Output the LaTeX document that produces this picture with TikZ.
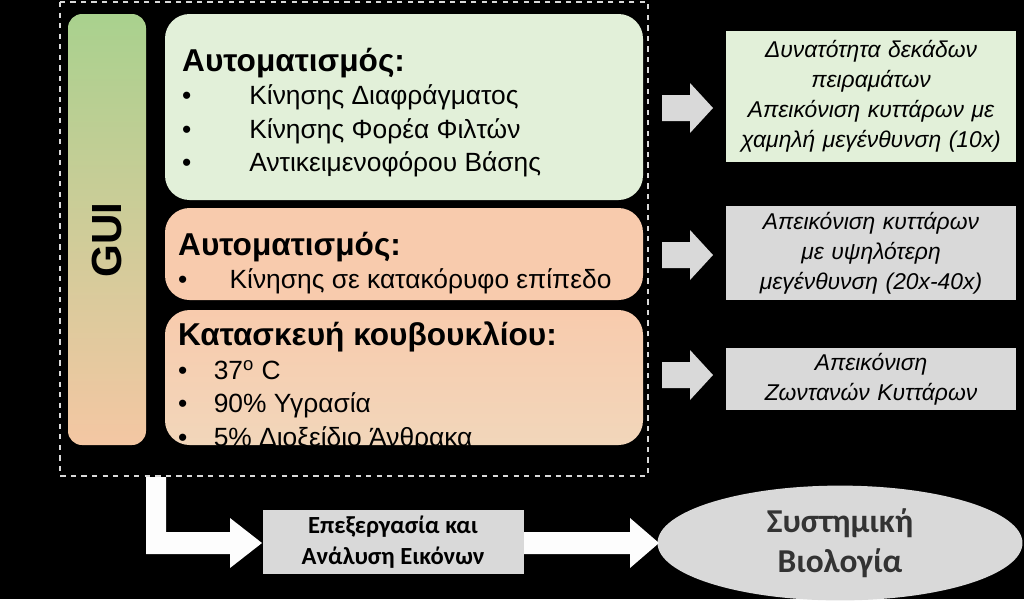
\documentclass[tikz,border=0pt]{standalone}
\usepackage{fontspec}
\setmainfont{Liberation Sans}
\newfontfamily\calibri{Carlito}
\usetikzlibrary{shapes.geometric}
\definecolor{lgreen}{HTML}{E2F0D9}
\definecolor{peach}{HTML}{F8CBAD}
\definecolor{lgrey}{HTML}{D9D9D9}
\definecolor{bgreen}{HTML}{A9D18E}
\definecolor{btan}{HTML}{F4C7A3}

\begin{document}
\begin{tikzpicture}[x=0.02cm,y=-0.02cm,
	panel/.style={rounded corners=14pt, draw=none},
	outbox/.style={draw=black, text width=5.6cm, align=center, font=\itshape\fontsize{13}{17}\selectfont},
	grarrow/.style={fill=lgrey},
	wharrow/.style={fill=white!95!lgrey}
	]
	
	\fill[black] (0,0) rectangle (1024,599);
	
	% frame
	\draw[lgrey, thick, dashed] (60,2) rectangle (648,476);
	
	% GUI bar
	\shade[top color=bgreen, bottom color=btan, rounded corners=8pt] (68,14) rectangle (146,445);
	\node (gui) at (107,240) [rotate=90, font=\bfseries\fontsize{24}{28}\selectfont] {GUI};
	
	% panels
	\fill[panel, lgreen] (165,14) rectangle (643,200);
	\node (p1) [anchor=north west, align=left, font=\fontsize{15}{19}\selectfont] at (176,42)
		{\textbf{\fontsize{18}{22}\selectfont Αυτοματισμός:}\\
		\textbullet\hspace{2.2em}Κίνησης Διαφράγματος\\
		\textbullet\hspace{2.2em}Κίνησης Φορέα Φιλτών\\
		\textbullet\hspace{2.2em}Αντικειμενοφόρου Βάσης};
	
	\fill[panel, peach] (165,208) rectangle (643,300);
	\node (p2) [anchor=north west, align=left, font=\fontsize{15}{19}\selectfont] at (172,226)
		{\textbf{\fontsize{18}{22}\selectfont Αυτοματισμός:}\\
		\textbullet\hspace{1.6em}Κίνησης σε κατακόρυφο επίπεδο};
	
	\shade[top color=peach, bottom color=peach!70!lgreen, rounded corners=14pt] (165,310) rectangle (643,445);
	\node (p3) [anchor=north west, align=left, font=\fontsize{15}{19}\selectfont] at (172,316)
		{\textbf{\fontsize{18}{22}\selectfont Κατασκευή κουβουκλίου:}\\
		\textbullet\hspace{1em}37\textsuperscript{o} C\\
		\textbullet\hspace{1em}90\% Υγρασία\\
		\textbullet\hspace{1em}5\% Διοξείδιο Άνθρακα};
	
	% outputs
	\node (o1) [outbox, fill=lgreen, minimum height=2.64cm] at (871,96)
		{Δυνατότητα δεκάδων πειραμάτων\\ Απεικόνιση κυττάρων με χαμηλή μεγένθυνση (10x)};
	\node (o2) [outbox, fill=lgrey, minimum height=1.9cm] at (871,253)
		{Απεικόνιση κυττάρων με υψηλότερη μεγένθυνση (20x-40x)};
	\node (o3) [outbox, fill=lgrey, minimum height=1.24cm] at (871,379)
		{Απεικόνιση Ζωντανών Κυττάρων};
	
	% grey arrows
	\foreach \y in {108,255,375}
		\fill[grarrow] (662,\y-13) -- (690,\y-13) -- (690,\y-25) -- (713,\y) -- (690,\y+25) -- (690,\y+13) -- (662,\y+13) -- cycle;
	
	% bottom chain
	\node (proc) [draw=black, fill=lgrey, minimum width=5.24cm, minimum height=1.28cm, align=center,
		font=\calibri\bfseries\fontsize{14}{18}\selectfont] at (393,542) {Επεξεργασία και\\ Ανάλυση Εικόνων};
	\node (bio) [ellipse, fill=lgrey, minimum width=7.3cm, minimum height=1.92cm, align=center,
		font=\calibri\bfseries\fontsize{19}{23}\selectfont, text=black!80] at (840,543) {Συστημική\\ Βιολογία};
	
	\fill[wharrow] (146,477) -- (166,477) -- (166,532) -- (230,532) -- (230,518) -- (262,543) -- (230,568) -- (230,554) -- (146,554) -- cycle;
	\fill[wharrow] (524,532) -- (630,532) -- (630,518) -- (659,543) -- (630,568) -- (630,554) -- (524,554) -- cycle;
	
\end{tikzpicture}
\end{document}
